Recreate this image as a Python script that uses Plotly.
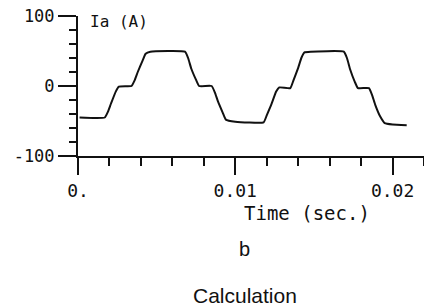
import plotly.graph_objects as go

# Time (s) and current Ia (A)
time_s = [0.0001, 0.0017, 0.0019, 0.0021, 0.0024, 0.0026, 0.0034, 0.0036, 0.0038, 0.0041, 0.0043, 0.0046,
          0.0068, 0.0070, 0.0072, 0.0075, 0.0077, 0.0085, 0.0087, 0.0089, 0.0092, 0.0094, 0.0100,
          0.0118, 0.0120, 0.0123, 0.0126, 0.0128, 0.0135, 0.0137, 0.0140, 0.0142, 0.0144, 0.0148,
          0.0169, 0.0171, 0.0173, 0.0176, 0.0178, 0.0185, 0.0187, 0.0189, 0.0192, 0.0195, 0.0200, 0.0209]
current_a = [-45, -45, -37, -25, -8, -1, 0, 8, 20, 36, 46, 49,
             49, 40, 25, 9, 0, 0, -9, -22, -38, -48, -51,
             -52, -42, -26, -8, -2, -3, 8, 26, 40, 48, 49,
             49, 40, 24, 6, -3, -3, -13, -27, -43, -53, -55, -56]

x_ticks = [0, 0.01, 0.02]
x_tick_labels = ["0.", "0.01", "0.02"]
y_ticks = [-100, 0, 100]
y_tick_labels = ["-100", "0", "100"]

W, H = 424, 306
L, R, T, B = 78, 0, 16, 150
MONO = "DejaVu Sans Mono"
INK = "#111111"

fig = go.Figure()
fig.add_trace(go.Scatter(x=time_s, y=current_a, mode="lines",
                         line=dict(color=INK, width=2, shape="spline", smoothing=0.4),
                         hoverinfo="skip", showlegend=False))

fig.update_layout(
    template="none",
    width=W, height=H,
    margin=dict(l=L, r=R, t=T, b=B, pad=0),
    paper_bgcolor="white", plot_bgcolor="white",
    font=dict(family=MONO, size=18, color=INK),
    xaxis=dict(range=[0, 0.022], showgrid=False, zeroline=False, automargin=False,
               showline=True, linecolor=INK, linewidth=2,
               tickmode="array", tickvals=x_ticks, ticktext=x_tick_labels,
               ticks="outside", ticklen=17, tickwidth=2, tickcolor=INK,
               minor=dict(dtick=0.002, ticks="outside", ticklen=8, tickwidth=2, tickcolor=INK, showgrid=False),
               tickfont=dict(family=MONO, size=18, color=INK)),
    yaxis=dict(range=[-100, 100], showgrid=False, zeroline=False, automargin=False,
               showline=True, linecolor=INK, linewidth=2,
               tickmode="array", tickvals=y_ticks, ticktext=y_tick_labels,
               ticks="outside", ticklen=18, tickwidth=2, tickcolor=INK,
               minor=dict(dtick=20, ticks="outside", ticklen=7, tickwidth=2, tickcolor=INK, showgrid=False),
               tickfont=dict(family=MONO, size=17, color=INK)),
)

pw, ph = W - L - R, H - T - B
def px(x):
    return (x - L) / pw
def py(y):
    return (H - B - y) / ph

fig.add_annotation(x=px(88), y=py(21), xref="paper", yref="paper", text="Ia (A)",
                   showarrow=False, xanchor="left", yanchor="middle",
                   font=dict(family=MONO, size=16, color=INK))
fig.add_annotation(x=px(307), y=py(213), xref="paper", yref="paper", text="Time (sec.)",
                   showarrow=False, xanchor="center", yanchor="middle",
                   font=dict(family=MONO, size=19, color=INK))
fig.add_annotation(x=px(244), y=py(249), xref="paper", yref="paper", text="b",
                   showarrow=False, xanchor="center", yanchor="middle",
                   font=dict(family="Liberation Sans", size=20, color=INK))
fig.add_annotation(x=px(245), y=py(295), xref="paper", yref="paper", text="Calculation",
                   showarrow=False, xanchor="center", yanchor="middle",
                   font=dict(family="Liberation Sans", size=21, color=INK))

fig.write_html("out.html", config={"displayModeBar": False},
               post_script="document.body.style.margin='0';document.body.style.overflow='hidden';")
